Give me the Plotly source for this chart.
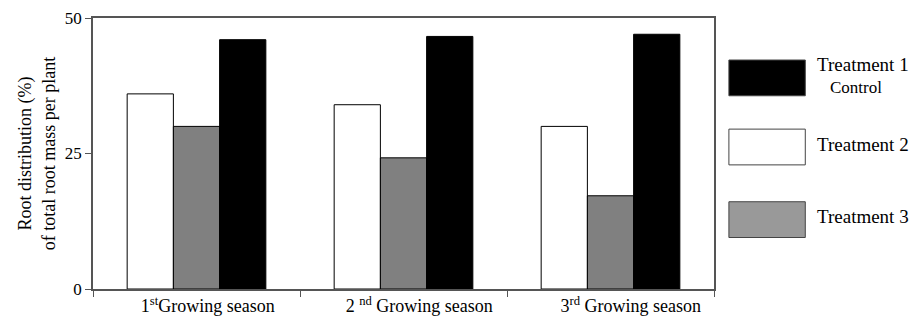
import plotly.graph_objects as go

seasons = ["1<sup>st</sup>Growing season", "2 <sup>nd</sup> Growing season", "3<sup>rd</sup> Growing season"]
label_pad = [5, 7, 9]  # leading spaces that nudge each label right, as in the reference
series_names = ["Treatment 2", "Treatment 3", "Treatment 1"]
treatment2 = [36, 34, 30]
treatment3 = [30, 24.2, 17.2]
treatment1 = [46, 46.6, 47]
y_ticks = [0, 25, 50]

legend_labels = ["Treatment 1", "Treatment 2", "Treatment 3"]
legend_sub = ["Control", "", ""]
legend_colors = ["#000000", "#ffffff", "#999999"]

colors = ["#ffffff", "#808080", "#000000"]
values = [treatment2, treatment3, treatment1]

FONT = "Liberation Serif, Times New Roman, serif"
fig = go.Figure()
for name, vals, c in zip(series_names, values, colors):
    fig.add_trace(go.Bar(x=seasons, y=vals, name=name,
                         marker=dict(color=c, line=dict(color="#000000", width=1))))

fig.update_layout(
    width=917, height=325,
    margin=dict(l=93, r=203, t=18, b=36, autoexpand=False),
    barmode="group", bargap=0.33, bargroupgap=0,
    plot_bgcolor="white", paper_bgcolor="white",
    showlegend=False,
    font=dict(family=FONT, size=18, color="#000000"),
)
fig.update_yaxes(
    range=[0, 50], tickvals=y_ticks, ticks="outside", ticklen=6, tickcolor="#555",
    showline=True, linecolor="#555", linewidth=1.5, mirror=True, showgrid=False, zeroline=False,
    automargin=False, tickfont=dict(family=FONT, size=17),
    title=dict(text="Root distribution (%)<br>of total root mass per plant",
               font=dict(family=FONT, size=18), standoff=5),
)
fig.update_xaxes(
    ticks="outside", tickson="boundaries", ticklen=6, tickcolor="#555",
    showline=True, linecolor="#555", linewidth=1.5, mirror=True, showgrid=False,
    automargin=False, tickfont=dict(family=FONT, size=18),
    tickmode="array", tickvals=seasons,
    ticktext=["\u00a0" * p + s for p, s in zip(label_pad, seasons)],
)

# custom legend with large swatches
ys = [0.779, 0.524, 0.256]
for lab, sub, col, yc in zip(legend_labels, legend_sub, legend_colors, ys):
    fig.add_shape(type="rect", xref="paper", yref="paper",
                  x0=1.024, x1=1.147, y0=yc - 0.066, y1=yc + 0.066,
                  fillcolor=col, line=dict(color="#444", width=1))
    if sub:
        fig.add_annotation(xref="paper", yref="paper", x=1.162, y=0.827, text=lab,
                           showarrow=False, xanchor="left", yanchor="middle",
                           font=dict(family=FONT, size=19))
        fig.add_annotation(xref="paper", yref="paper", x=1.183, y=0.745, text=sub,
                           showarrow=False, xanchor="left", yanchor="middle",
                           font=dict(family=FONT, size=17))
    else:
        fig.add_annotation(xref="paper", yref="paper", x=1.162, y=yc + 0.01, text=lab,
                           showarrow=False, xanchor="left", yanchor="middle",
                           font=dict(family=FONT, size=19))

fig.write_html("out.html", config={"displayModeBar": False},
               post_script="document.body.style.margin='0';")
